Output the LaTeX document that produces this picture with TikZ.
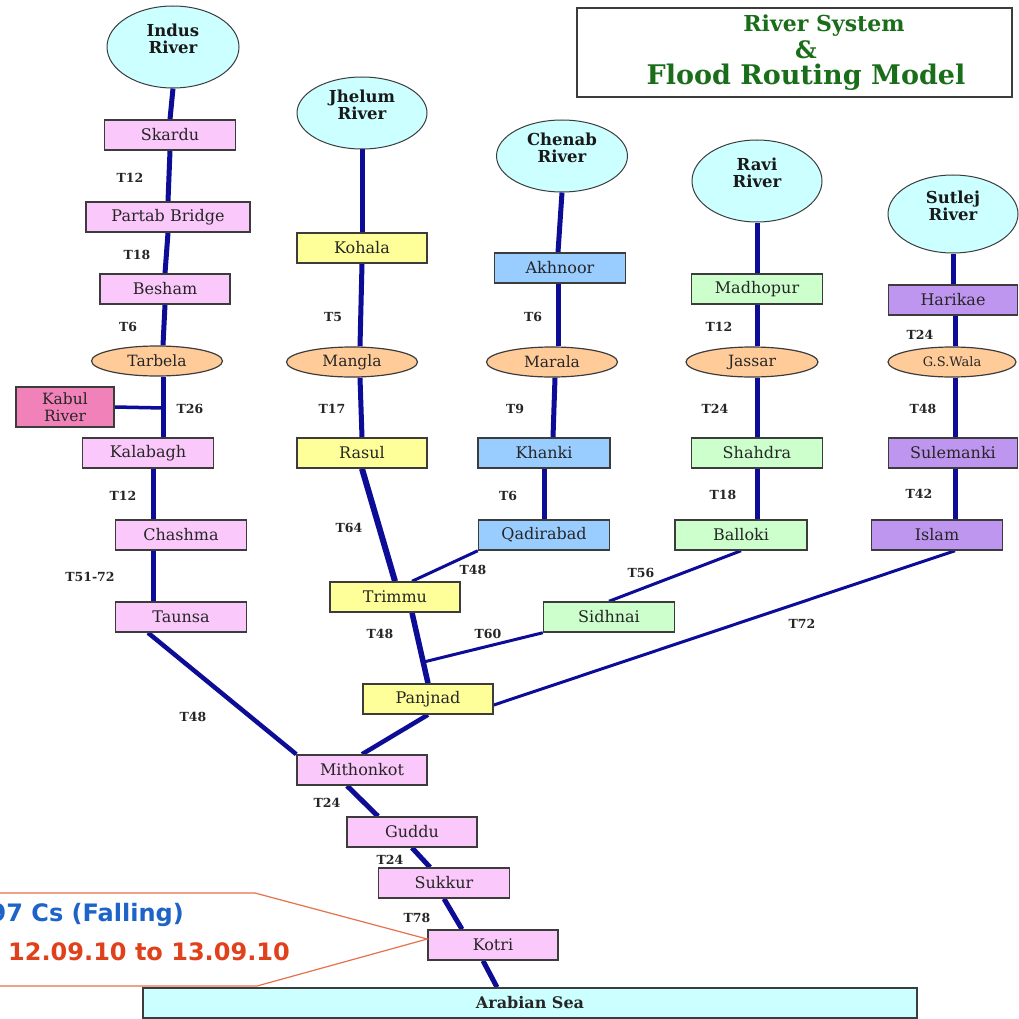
\documentclass[tikz,border=0pt]{standalone}
\usepackage{fontspec}
\setmainfont{DejaVu Serif}
\newfontfamily\calloutfont{DejaVu Sans}
\usetikzlibrary{shapes.geometric,calc,backgrounds}

\definecolor{riverblue}{RGB}{12,12,150}
\definecolor{cyanfill}{RGB}{204,255,255}
\definecolor{pinkfill}{RGB}{250,200,250}
\definecolor{kabulfill}{RGB}{240,130,185}
\definecolor{yellowfill}{RGB}{255,255,153}
\definecolor{bluefill}{RGB}{153,204,255}
\definecolor{greenfill}{RGB}{204,255,204}
\definecolor{purplefill}{RGB}{190,150,240}
\definecolor{orangefill}{RGB}{255,204,153}
\definecolor{titlegreen}{RGB}{26,110,26}
\definecolor{calloutline}{RGB}{232,112,74}
\definecolor{calloutblue}{RGB}{30,100,200}
\definecolor{calloutred}{RGB}{224,64,26}
\definecolor{edgegray}{RGB}{60,60,60}

\begin{document}
\begin{tikzpicture}[x=1pt,y=-1pt,
  stn/.style={draw=edgegray, line width=1.5pt, minimum height=30pt, minimum width=131pt,
    inner sep=0pt, font=\fontsize{16}{18}\selectfont, text=black!85},
  pinkbox/.style={stn, fill=pinkfill},
  yellowbox/.style={stn, fill=yellowfill},
  bluebox/.style={stn, fill=bluefill},
  greenbox/.style={stn, fill=greenfill},
  purplebox/.style={stn, fill=purplefill},
  dam/.style={ellipse, draw=edgegray, line width=1.2pt, fill=orangefill, minimum width=131pt,
    minimum height=30pt, inner sep=0pt, font=\fontsize{15.5}{17}\selectfont, text=black!85},
  src/.style={ellipse, draw=edgegray, line width=1pt, fill=cyanfill, inner sep=0pt},
  srctxt/.style={font=\bfseries\fontsize{16.5}{16.5}\selectfont, align=center, yshift=8pt, text=black!90},
  tlab/.style={font=\bfseries\fontsize{12.5}{13}\selectfont, text=black!85, inner sep=0pt},
  flow/.style={draw=riverblue, line width=5pt},
  feeder/.style={draw=riverblue, line width=3pt},
]
\useasboundingbox (0,0) rectangle (1018,1019);

% title
\node[draw=edgegray, line width=1.5pt, fill=white, minimum width=435pt, minimum height=89pt, inner sep=0pt]
  (title) at (794.5,52.5) {};
\node[font=\bfseries\fontsize{27}{26.5}\selectfont, text=titlegreen, align=center] (titletext) at (806,53)
  {\fontsize{22}{26.5}\selectfont\hspace*{36pt}River System\\\fontsize{24}{26.5}\selectfont\&\\Flood Routing Model};

% sources
\node[src, minimum width=132pt, minimum height=82pt, label={[srctxt]center:Indus\\River}] (indus) at (173,47) {};
\node[src, minimum width=130pt, minimum height=72pt, label={[srctxt]center:Jhelum\\River}] (jhelum) at (362,113) {};
\node[src, minimum width=131pt, minimum height=72pt, label={[srctxt]center:Chenab\\River}] (chenab) at (562,156) {};
\node[src, minimum width=130pt, minimum height=82pt, label={[srctxt]center:Ravi\\River}] (ravi) at (757,181) {};
\node[src, minimum width=130pt, minimum height=78pt, label={[srctxt]center:Sutlej\\River}] (sutlej) at (953,214) {};

% Indus
\node[pinkbox] (skardu) at (170,135) {Skardu};
\node[pinkbox, minimum width=164pt] (partab) at (168,217) {Partab Bridge};
\node[pinkbox, minimum width=130pt] (besham) at (165,289) {Besham};
\node[dam] (tarbela) at (157,361) {Tarbela};
\node[stn, fill=kabulfill, minimum width=98pt, minimum height=40pt, align=center,
  font=\fontsize{15.5}{17}\selectfont] (kabul) at (65,407) {Kabul\\River};
\node[pinkbox] (kalabagh) at (148,453) {Kalabagh};
\node[pinkbox] (chashma) at (181,535) {Chashma};
\node[pinkbox] (taunsa) at (181,617) {Taunsa};
\node[pinkbox, minimum width=130pt] (mithonkot) at (362,770) {Mithonkot};
\node[pinkbox, minimum width=130pt] (guddu) at (412,832) {Guddu};
\node[pinkbox] (sukkur) at (444,883) {Sukkur};
\node[pinkbox, minimum width=130pt] (kotri) at (493,945) {Kotri};

% Jhelum
\node[yellowbox, minimum width=130pt] (kohala) at (362,248) {Kohala};
\node[dam] (mangla) at (352,362) {Mangla};
\node[yellowbox, minimum width=130pt] (rasul) at (362,453) {Rasul};
\node[yellowbox, minimum width=130pt] (trimmu) at (395,597) {Trimmu};
\node[yellowbox, minimum width=130pt] (panjnad) at (428,699) {Panjnad};

% Chenab
\node[bluebox] (akhnoor) at (560,268) {Akhnoor};
\node[dam] (marala) at (552,362) {Marala};
\node[bluebox, minimum width=132pt] (khanki) at (544,453) {Khanki};
\node[bluebox] (qadirabad) at (544,535) {Qadirabad};

% Ravi
\node[greenbox] (madhopur) at (757,289) {Madhopur};
\node[dam, minimum width=132pt] (jassar) at (752,362) {Jassar};
\node[greenbox] (shahdra) at (757,453) {Shahdra};
\node[greenbox, minimum width=132pt] (balloki) at (741,535) {Balloki};
\node[greenbox] (sidhnai) at (609,617) {Sidhnai};

% Sutlej
\node[purplebox, minimum width=129pt] (harikae) at (953,300) {Harikae};
\node[dam, minimum width=128pt, font=\fontsize{13}{14}\selectfont] (gswala) at (952,362) {G.S.Wala};
\node[purplebox, minimum width=129pt] (sulemanki) at (953,453) {Sulemanki};
\node[purplebox] (islam) at (937,535) {Islam};

% sea
\node[stn, fill=cyanfill, minimum width=774pt, font=\bfseries\fontsize{16}{18}\selectfont] (sea) at (530,1003) {Arabian Sea};

% travel-time labels
\node[tlab] (t1) at (130,178) {T12};
\node[tlab] (t2) at (137,255) {T18};
\node[tlab] (t3) at (128,327) {T6};
\node[tlab] (t4) at (190,409) {T26};
\node[tlab] (t5) at (123,496) {T12};
\node[tlab] (t6) at (90,577) {T51-72};
\node[tlab] (t7) at (193,717) {T48};
\node[tlab] (t8) at (327,803) {T24};
\node[tlab] (t9) at (390,860) {T24};
\node[tlab] (t10) at (417,918) {T78};
\node[tlab] (t11) at (333,317) {T5};
\node[tlab] (t12) at (332,409) {T17};
\node[tlab] (t13) at (349,528) {T64};
\node[tlab] (t14) at (473,570) {T48};
\node[tlab] (t15) at (380,634) {T48};
\node[tlab] (t16) at (488,634) {T60};
\node[tlab] (t17) at (533,317) {T6};
\node[tlab] (t18) at (515,409) {T9};
\node[tlab] (t19) at (508,496) {T6};
\node[tlab] (t20) at (719,327) {T12};
\node[tlab] (t21) at (715,409) {T24};
\node[tlab] (t22) at (723,495) {T18};
\node[tlab] (t23) at (641,573) {T56};
\node[tlab] (t24) at (920,335) {T24};
\node[tlab] (t25) at (923,409) {T48};
\node[tlab] (t26) at (919,494) {T42};
\node[tlab] (t27) at (802,624) {T72};

% callout
\draw[calloutline, line width=1.2pt, fill=white]
  (-10,893) -- (255,893) -- ([yshift=6pt]kotri.west) -- (257,986) -- (-10,986);
\node[anchor=base east, inner sep=0pt, font=\calloutfont\bfseries\fontsize{24}{28}\selectfont, text=calloutblue]
  (flowtxt) at (184,921) {97 Cs (Falling)};
\node[anchor=base west, inner sep=0pt, font=\calloutfont\bfseries\fontsize{24}{28}\selectfont, text=calloutred]
  (datetxt) at (8,960) {12.09.10 to 13.09.10};

\coordinate (kabulj) at (163,408);

\begin{scope}[on background layer]
\fill[white] (0,0) rectangle (1018,1019);
% Indus
\draw[flow] (indus.south) -- (skardu.north);
\draw[flow] (skardu.south) -- (partab.north);
\draw[flow] (partab.south) -- (besham.north);
\draw[flow] (besham.south) -- ([xshift=6pt]tarbela.north);
\draw[flow] ([xshift=6pt]tarbela.south) -- (kabulj) -- ([xshift=15pt]kalabagh.north);
\draw[draw=riverblue, line width=3.5pt] (kabul.east) -- (kabulj);
\draw[flow] ([xshift=5pt]kalabagh.south) -- ([xshift=-28pt]chashma.north);
\draw[flow] ([xshift=-28pt]chashma.south) -- ([xshift=-28pt]taunsa.north);
\draw[flow, line width=4.5pt] ([xshift=-33pt]taunsa.south) -- (mithonkot.north west);
% Jhelum
\draw[flow] (jhelum.south) -- (kohala.north);
\draw[flow] (kohala.south) -- ([xshift=8pt]mangla.north);
\draw[flow] ([xshift=8pt]mangla.south) -- (rasul.north);
\draw[flow, line width=6pt] (rasul.south) -- (trimmu.north);
% Chenab
\draw[flow] (chenab.south) -- ([xshift=-2pt]akhnoor.north);
\draw[flow] ([xshift=-2pt]akhnoor.south) -- ([xshift=6pt]marala.north);
\draw[flow] ([xshift=3pt]marala.south) -- ([xshift=9pt]khanki.north);
\draw[flow] (khanki.south) -- (qadirabad.north);
\draw[feeder] (qadirabad.south west) -- ([xshift=17pt]trimmu.north);
% Ravi
\draw[flow] (ravi.south) -- (madhopur.north);
\draw[flow] (madhopur.south) -- ([xshift=5pt]jassar.north);
\draw[flow] ([xshift=5pt]jassar.south) -- (shahdra.north);
\draw[flow] (shahdra.south) -- ([xshift=16pt]balloki.north);
\draw[feeder] (balloki.south) -- (sidhnai.north);
% Sutlej
\draw[flow] (sutlej.south) -- (harikae.north);
\draw[flow] ([xshift=2pt]harikae.south) -- ([xshift=3pt]gswala.north);
\draw[flow] ([xshift=3pt]gswala.south) -- ([xshift=2pt]sulemanki.north);
\draw[flow] ([xshift=2pt]sulemanki.south) -- ([xshift=18pt]islam.north);
\draw[feeder] ([xshift=18pt]islam.south) -- ([yshift=-6pt]panjnad.east);
% main stem
\draw[flow, line width=5.5pt] ([xshift=17pt]trimmu.south) -- (panjnad.north);
\coordinate (sidj) at ($([xshift=17pt]trimmu.south)!0.7!(panjnad.north)$);
\draw[feeder] (sidhnai.south west) -- (sidj);
\draw[flow, line width=4.5pt] (panjnad.south) -- (mithonkot.north);
\draw[flow] ([xshift=-15pt]mithonkot.south) -- ([xshift=-34pt]guddu.north);
\draw[flow] (guddu.south) -- ([xshift=-14pt]sukkur.north);
\draw[flow] (sukkur.south) -- ([xshift=-31pt]kotri.north);
\draw[flow] ([xshift=-10pt]kotri.south) -- ([xshift=-33pt]sea.north);
\end{scope}
\end{tikzpicture}
\end{document}
